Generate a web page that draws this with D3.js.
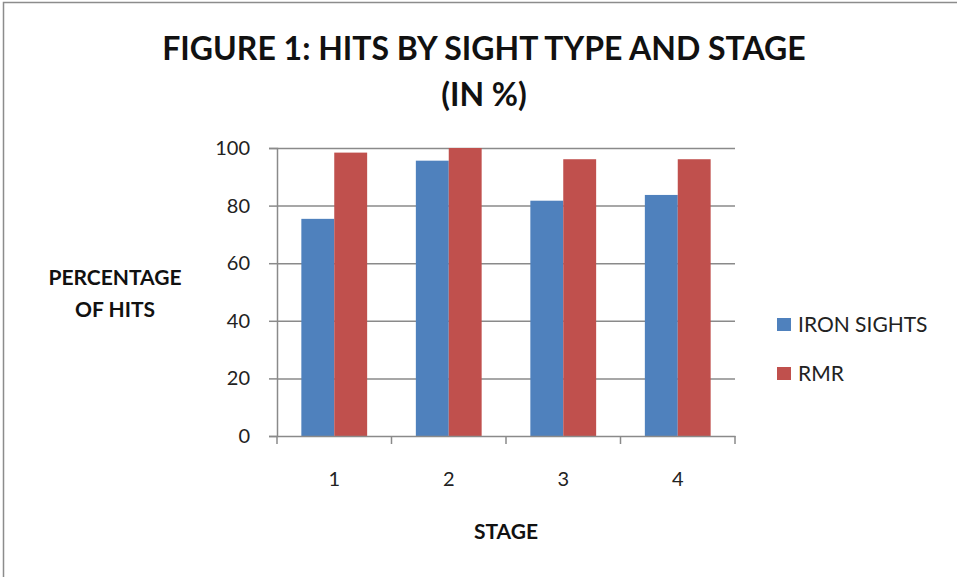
<!DOCTYPE html>
<html>
<head>
<meta charset="utf-8">
<script src="https://cdn.jsdelivr.net/npm/d3@7"></script>
<style>
  html, body { margin: 0; padding: 0; background: #fff; }
  svg { display: block; }
</style>
</head>
<body>
<svg id="chart" width="957" height="577"></svg>
<script>
// Hits by sight type and stage, in percent
const stages = ["1", "2", "3", "4"];
const ironSights = [75.4, 95.6, 81.7, 83.7];
const rmr = [98.4, 100, 96.1, 96.1];
const seriesNames = ["IRON SIGHTS", "RMR"];
const seriesColors = ["#4F81BD", "#C0504D"];
const yTicks = [0, 20, 40, 60, 80, 100];

const font = "Lato, 'Open Sans', 'Liberation Sans', sans-serif";
const svg = d3.select("#chart");

// outer chart frame
svg.append("rect")
  .attr("x", 3.5).attr("y", 2.5)
  .attr("width", 980).attr("height", 600)
  .attr("fill", "#fff").attr("stroke", "#8c8c8c").attr("stroke-width", 1.5);

const plot = { left: 277, right: 735, top: 148, bottom: 436 };

const x = d3.scaleBand().domain(stages).range([plot.left, plot.right]).paddingInner(0).paddingOuter(0);
const inner = d3.scaleBand().domain(seriesNames).range([0, x.bandwidth()]).paddingInner(0).paddingOuter(0.74);
const y = d3.scaleLinear().domain([0, 100]).range([plot.bottom, plot.top]);

// horizontal gridlines
svg.append("g").selectAll("line").data(yTicks.filter(d => d > 0)).join("line")
  .attr("x1", plot.left).attr("x2", plot.right)
  .attr("y1", d => y(d) + 0.5).attr("y2", d => y(d) + 0.5)
  .attr("stroke", "#8a8a8a").attr("stroke-width", 1.5);

// bars
const rows = stages.map((s, i) => ({ stage: s, values: [ironSights[i], rmr[i]] }));
const groups = svg.append("g").selectAll("g").data(rows).join("g")
  .attr("transform", d => `translate(${x(d.stage)},0)`);
groups.selectAll("rect")
  .data(d => d.values.map((v, j) => ({ name: seriesNames[j], value: v, color: seriesColors[j] })))
  .join("rect")
  .attr("x", d => inner(d.name))
  .attr("width", inner.bandwidth())
  .attr("y", d => y(d.value))
  .attr("height", d => y(0) - y(d.value))
  .attr("fill", d => d.color);

// y axis
const yAxis = svg.append("g")
  .attr("transform", `translate(${plot.left},0)`)
  .call(d3.axisLeft(y).tickValues(yTicks).tickSize(8).tickPadding(19));
yAxis.select(".domain").attr("stroke", "#8a8a8a").attr("stroke-width", 1.5);
yAxis.selectAll(".tick line").attr("stroke", "#8a8a8a").attr("stroke-width", 1.5);
yAxis.selectAll("text").attr("font-family", font).attr("font-size", 20).attr("fill", "#222");

// x axis
const xAxis = svg.append("g")
  .attr("transform", `translate(0,${plot.bottom})`)
  .call(d3.axisBottom(x).tickSize(0).tickPadding(36));
xAxis.select(".domain").attr("stroke", "#8a8a8a").attr("stroke-width", 1.5);
xAxis.selectAll("text").attr("font-family", font).attr("font-size", 20).attr("fill", "#222");
// category boundary ticks
svg.append("g").selectAll("line").data(d3.range(stages.length + 1)).join("line")
  .attr("x1", i => plot.left + i * x.step()).attr("x2", i => plot.left + i * x.step())
  .attr("y1", plot.bottom).attr("y2", plot.bottom + 8)
  .attr("stroke", "#8a8a8a").attr("stroke-width", 1.5);

// titles
const title = svg.append("text").attr("text-anchor", "middle")
  .attr("font-family", font).attr("font-weight", "bold").attr("font-size", 32).attr("fill", "#111");
title.append("tspan").attr("x", 484).attr("y", 60).text("FIGURE 1: HITS BY SIGHT TYPE AND STAGE");
title.append("tspan").attr("x", 484).attr("y", 106).text("(IN %)");

const yTitle = svg.append("text").attr("text-anchor", "middle")
  .attr("font-family", font).attr("font-weight", "bold").attr("font-size", 21).attr("fill", "#111");
yTitle.append("tspan").attr("x", 115).attr("y", 285).text("PERCENTAGE");
yTitle.append("tspan").attr("x", 115).attr("y", 317).text("OF HITS");

svg.append("text").attr("x", 506).attr("y", 539).attr("text-anchor", "middle")
  .attr("font-family", font).attr("font-weight", "bold").attr("font-size", 21).attr("fill", "#111")
  .text("STAGE");

// legend
const legend = svg.append("g").selectAll("g").data(seriesNames).join("g")
  .attr("transform", (d, i) => `translate(777,${318 + i * 49})`);
legend.append("rect").attr("width", 14).attr("height", 13)
  .attr("fill", (d, i) => seriesColors[i]);
legend.append("text").attr("x", 21).attr("y", 14)
  .attr("font-family", font).attr("font-size", 21).attr("fill", "#222")
  .text(d => d);
</script>
</body>
</html>
